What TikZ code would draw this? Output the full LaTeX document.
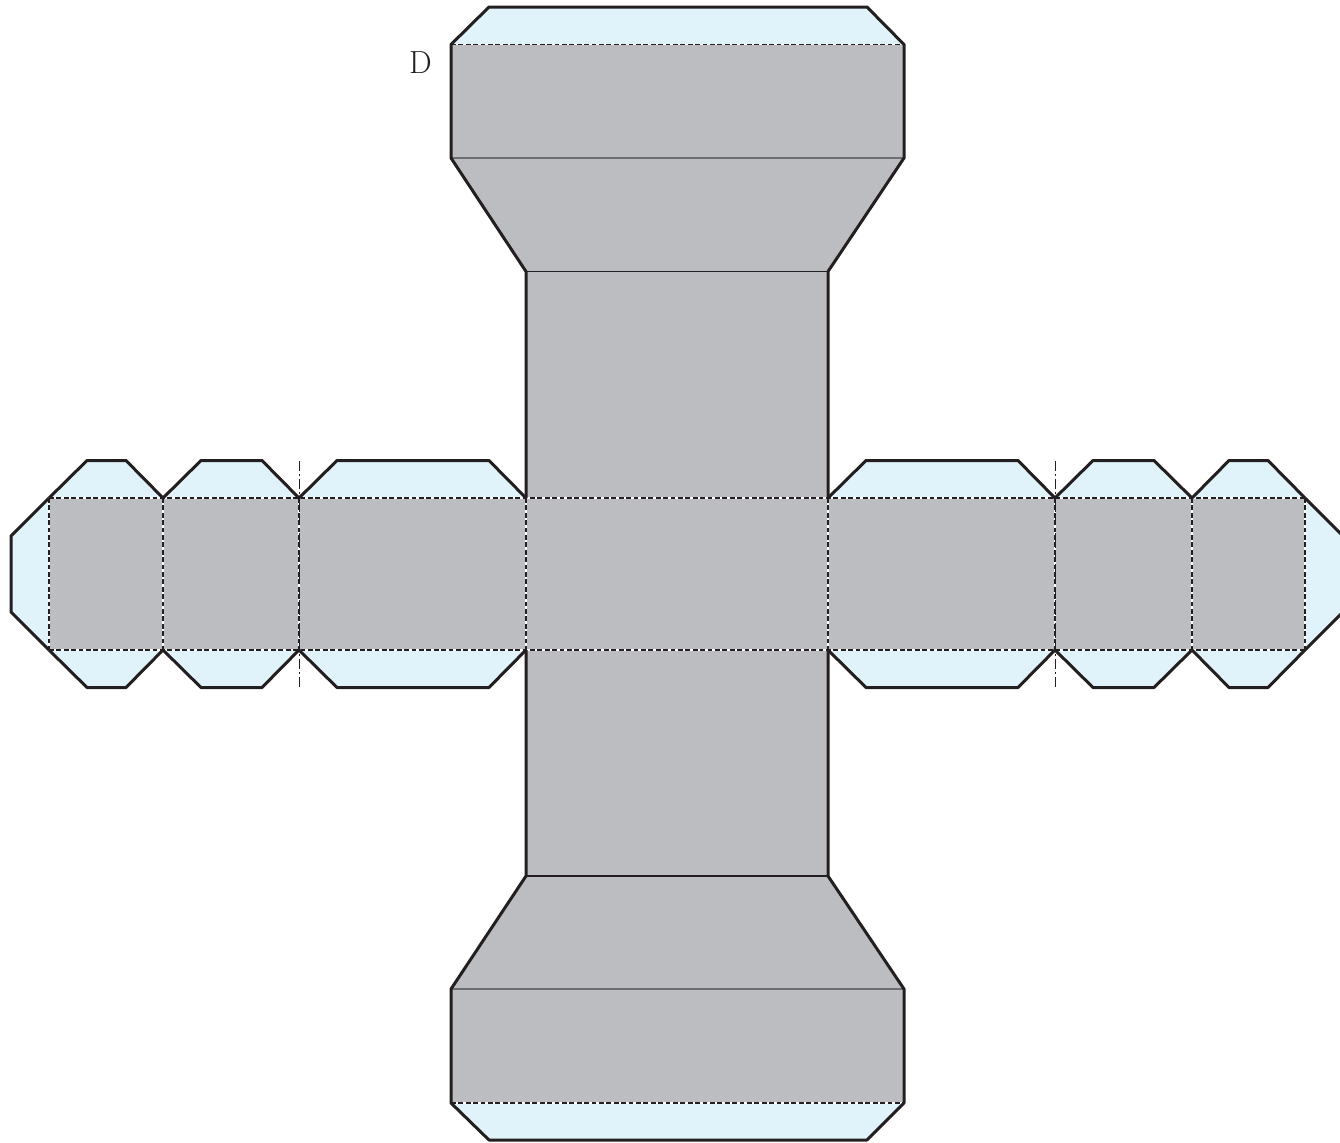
\documentclass[tikz,border=0pt]{standalone}
\usepackage{xcolor}
\definecolor{netgray}{HTML}{BCBDC1}
\definecolor{flapblue}{HTML}{E0F3FB}
\definecolor{netline}{HTML}{231F20}
\definecolor{softline}{HTML}{6D6E71}

\begin{document}
\begin{tikzpicture}[x=.5pt,y=-.5pt]
	\tikzstyle{face}=[fill=netgray]
	\tikzstyle{flap}=[fill=flapblue]
	\tikzstyle{outline}=[draw=netline,line width=1.5pt,line join=round]
	\tikzstyle{crease}=[draw=netline,line width=.6pt]
	\tikzstyle{softcrease}=[draw=softline,line width=.75pt]
	\tikzstyle{foldwhite}=[draw=white,line width=.55pt]
	\tikzstyle{fold}=[draw=netline,line width=.55pt,dash pattern=on 2.4pt off 1.3pt]
	\tikzstyle{axis}=[draw=netline,line width=.45pt,dash pattern=on 5pt off 1.5pt on 1pt off 1.5pt]
	\useasboundingbox (0,0) rectangle (1340,1142);

	% flaps
	\path[flap] (451,44.5) -- (489,7) -- (867,7) -- (904,44.5) -- cycle;
	\path[flap] (451,1103) -- (489,1140) -- (867,1140) -- (904,1103) -- cycle;
	\path[flap] (49,498) -- (11,536) -- (11,612) -- (49,650) -- cycle;
	\path[flap] (1305,498) -- (1343,536) -- (1343,612) -- (1305,650) -- cycle;
	\foreach \xa/\xb/\xc/\xd in {49/87/126/163,163/201/262/299,299/337/489/526,828/866/1018/1055,1055/1093/1154/1192,1192/1229/1268/1305}{
		\path[flap] (\xa,498) -- (\xb,460.5) -- (\xc,460.5) -- (\xd,498);
		\path[flap] (\xa,650) -- (\xb,687.5) -- (\xc,687.5) -- (\xd,650);
	}

	% gray faces
	\path[face] (451,44.5) -- (904,44.5) -- (904,158) -- (828,271.5) -- (828,498) -- (1305,498)
		-- (1305,650) -- (828,650) -- (828,876) -- (904,989) -- (904,1103) -- (451,1103)
		-- (451,989) -- (526,876) -- (526,650) -- (49,650) -- (49,498) -- (526,498)
		-- (526,271.5) -- (451,158) -- cycle;

	% plain creases
	\draw[softcrease] (451,158) -- (904,158);
	\draw[crease] (526,271.5) -- (828,271.5);
	\draw[crease] (526,876) -- (828,876);
	\draw[softcrease] (451,989) -- (904,989);

	% dashed folds
	\foreach \xa/\ya/\xb/\yb in {451/44.5/904/44.5,451/1103/904/1103,49/498/1305/498,49/650/1305/650,
		49/498/49/650,163/498/163/650,299/498/299/650,526/498/526/650,
		828/498/828/650,1055/498/1055/650,1192/498/1192/650,1305/498/1305/650}{
		\draw[foldwhite] (\xa,\ya) -- (\xb,\yb);
		\draw[fold] (\xa,\ya) -- (\xb,\yb);
	}
	\draw[axis] (299,461) -- (299,688);
	\draw[axis] (1055,461) -- (1055,688);

	% outer cut lines
	\draw[outline] (526,498) -- (526,271.5) -- (451,158) -- (451,44.5) -- (489,7) -- (867,7) -- (904,44.5) -- (904,158) -- (828,271.5) -- (828,498);
	\draw[outline] (526,650) -- (526,876) -- (451,989) -- (451,1103) -- (489,1140) -- (867,1140) -- (904,1103) -- (904,989) -- (828,876) -- (828,650);
	\draw[outline] (49,498) -- (11,536) -- (11,612) -- (49,650);
	\draw[outline] (1305,498) -- (1343,536) -- (1343,612) -- (1305,650);
	\foreach \xa/\xb/\xc/\xd in {49/87/126/163,163/201/262/299,299/337/489/526,828/866/1018/1055,1055/1093/1154/1192,1192/1229/1268/1305}{
		\draw[outline] (\xa,498) -- (\xb,460.5) -- (\xc,460.5) -- (\xd,498);
		\draw[outline] (\xa,650) -- (\xb,687.5) -- (\xc,687.5) -- (\xd,650);
	}

	\node[text=netline,inner sep=0pt] (labelD) at (420.5,63) {\fontsize{16}{16}\selectfont D};
\end{tikzpicture}
\end{document}
